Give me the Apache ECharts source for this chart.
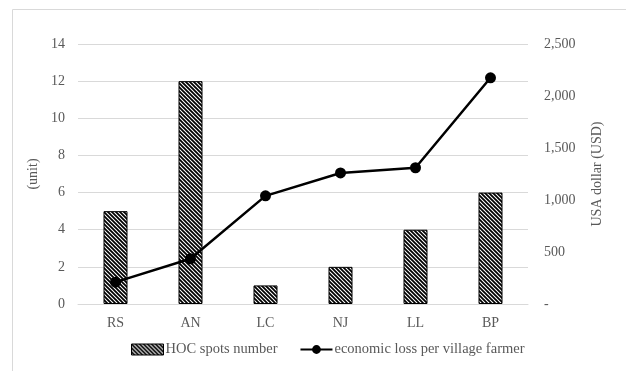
<!DOCTYPE html>
<html>
<head>
<meta charset="utf-8">
<script src="https://cdn.jsdelivr.net/npm/echarts@6/dist/echarts.min.js"></script>
<style>
  html, body { margin: 0; padding: 0; background: #fff; }
</style>
</head>
<body>
<div id="main" style="width: 626px; height: 371px;"></div>
<script>
  // data
  const categories = ['RS', 'AN', 'LC', 'NJ', 'LL', 'BP'];
  const hocSpots = [5, 12, 1, 2, 4, 6];
  const lossPerFarmer = [210, 435, 1040, 1260, 1310, 2175];

  // diagonal hatch fill for the bars
  function hatch () {
    const c = document.createElement('canvas');
    c.width = 4;
    c.height = 4;
    const ctx = c.getContext('2d');
    ctx.fillStyle = '#fff';
    ctx.fillRect(0, 0, 4, 4);
    ctx.strokeStyle = '#000';
    ctx.lineWidth = 1.8;
    ctx.beginPath();
    ctx.moveTo(-1, -1); ctx.lineTo(5, 5);
    ctx.moveTo(-1, 3); ctx.lineTo(1, 5);
    ctx.moveTo(3, -1); ctx.lineTo(5, 1);
    ctx.stroke();
    return c;
  }

  const font = 'Liberation Serif';
  const grey = '#595959';

  const chart = echarts.init(document.getElementById('main'));
  const option = {
    animation: false,
    textStyle: { fontFamily: font },
    graphic: [{
      type: 'rect',
      shape: { x: 12.5, y: 9.5, width: 640, height: 400 },
      style: { fill: 'none', stroke: '#d9d9d9', lineWidth: 1 },
      silent: true
    }],
    grid: { left: 78, right: 98, top: 44, bottom: 67 },
    legend: {
      bottom: 9,
      left: 126,
      itemGap: 22,
      textStyle: { fontFamily: font, fontSize: 14.5, color: grey, padding: [0, 0, 0, -3] },
      data: [
        { name: 'HOC spots number', icon: 'rect', itemStyle: { borderColor: '#000', borderWidth: 1 } },
        { name: 'economic loss per village farmer' }
      ],
      itemWidth: 32,
      itemHeight: 11
    },
    xAxis: {
      type: 'category',
      data: categories,
      axisLine: { lineStyle: { color: '#d9d9d9' } },
      axisTick: { show: false },
      axisLabel: { color: grey, fontSize: 14, fontFamily: font, margin: 12 }
    },
    yAxis: [
      {
        type: 'value',
        min: 0,
        max: 14,
        interval: 2,
        name: '(unit)',
        nameLocation: 'middle',
        nameGap: 33,
        nameTextStyle: { color: grey, fontSize: 14, fontFamily: font },
        axisLabel: { color: grey, fontSize: 14, fontFamily: font, margin: 13 },
        splitLine: { lineStyle: { color: '#d9d9d9' } }
      },
      {
        type: 'value',
        min: 0,
        max: 2500,
        interval: 500,
        name: 'USA dollar (USD)',
        nameLocation: 'middle',
        nameGap: 62,
        nameRotate: 90,
        nameTextStyle: { color: grey, fontSize: 14, fontFamily: font },
        axisLabel: {
          color: grey, fontSize: 14, fontFamily: font, margin: 16,
          formatter: function (v) {
            return v === 0 ? '-' : v.toLocaleString('en-US');
          }
        },
        splitLine: { show: false }
      }
    ],
    series: [
      {
        name: 'HOC spots number',
        type: 'bar',
        yAxisIndex: 0,
        data: hocSpots,
        barWidth: 24,
        itemStyle: {
          color: { image: hatch(), repeat: 'repeat' },
          borderColor: '#000',
          borderWidth: 1
        }
      },
      {
        name: 'economic loss per village farmer',
        type: 'line',
        yAxisIndex: 1,
        data: lossPerFarmer,
        symbol: 'circle',
        symbolSize: 11,
        lineStyle: { color: '#000', width: 2.5 },
        itemStyle: { color: '#000' }
      }
    ]
  };
  chart.setOption(option);
</script>
</body>
</html>
